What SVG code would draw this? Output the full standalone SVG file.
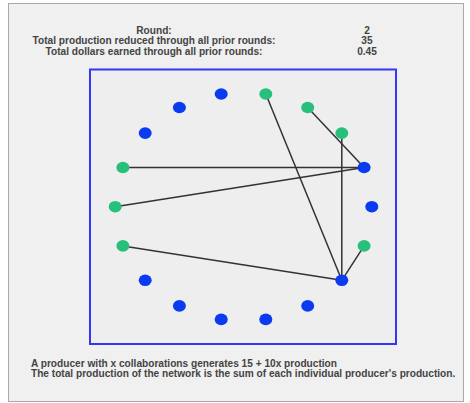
<svg xmlns="http://www.w3.org/2000/svg" width="470" height="403" viewBox="0 0 470 403">
<style>
text{font-family:"Liberation Sans",Arial,sans-serif;font-size:10.15px;font-weight:bold;fill:#444}
.hd{text-anchor:middle}
.b{fill:#0b3bf0}
.g{fill:#26c07c}
.e{stroke:#333;stroke-width:1.5;fill:none}
</style>
<rect x="0" y="0" width="470" height="403" fill="#ffffff"/>
<rect x="8.5" y="3.5" width="455" height="398" fill="#f0f0f0" stroke="#a8a8a8" stroke-width="1"/>
<g id="header">
<text class="hd" x="154" y="33.5">Round:</text>
<text class="hd" x="154" y="44">Total production reduced through all prior rounds:</text>
<text class="hd" x="154" y="54.5">Total dollars earned through all prior rounds:</text>
<text class="hd" x="367" y="33.5">2</text>
<text class="hd" x="367" y="44">35</text>
<text class="hd" x="367" y="54.5">0.45</text>
</g>
<rect id="frame" x="90" y="69.5" width="306" height="274.5" fill="#eeeeee" stroke="#3535f5" stroke-width="2"/>
<g id="connectors">
<line class="e" x1="265.8" y1="94" x2="341.8" y2="280.3"/>
<line class="e" x1="307.7" y1="107.5" x2="364.1" y2="167.5"/>
<line class="e" x1="341.8" y1="133.1" x2="341.8" y2="280.3"/>
<line class="e" x1="122.9" y1="167.5" x2="364.1" y2="167.5"/>
<line class="e" x1="115.2" y1="206.7" x2="364.1" y2="167.5"/>
<line class="e" x1="122.9" y1="245.9" x2="341.8" y2="280.3"/>
<line class="e" x1="364.1" y1="245.9" x2="341.8" y2="280.3"/>
</g>
<g id="n10"><ellipse class="g" cx="265.8" cy="94" rx="6.5" ry="5.8"/></g>
<g id="n30"><ellipse class="g" cx="307.7" cy="107.5" rx="6.5" ry="5.8"/></g>
<g id="n50"><ellipse class="g" cx="341.8" cy="133.1" rx="6.5" ry="5.8"/></g>
<g id="n70"><ellipse class="b" cx="364.1" cy="167.5" rx="6.5" ry="5.8"/></g>
<g id="n90"><ellipse class="b" cx="371.8" cy="206.7" rx="6.5" ry="5.8"/></g>
<g id="n110"><ellipse class="g" cx="364.1" cy="245.9" rx="6.5" ry="5.8"/></g>
<g id="n130"><ellipse class="b" cx="341.8" cy="280.3" rx="6.5" ry="5.8"/></g>
<g id="n150"><ellipse class="b" cx="307.7" cy="305.9" rx="6.5" ry="5.8"/></g>
<g id="n170"><ellipse class="b" cx="265.8" cy="319.4" rx="6.5" ry="5.8"/></g>
<g id="n190"><ellipse class="b" cx="221.2" cy="319.4" rx="6.5" ry="5.8"/></g>
<g id="n210"><ellipse class="b" cx="179.4" cy="305.9" rx="6.5" ry="5.8"/></g>
<g id="n230"><ellipse class="b" cx="145.2" cy="280.3" rx="6.5" ry="5.8"/></g>
<g id="n250"><ellipse class="g" cx="122.9" cy="245.9" rx="6.5" ry="5.8"/></g>
<g id="n270"><ellipse class="g" cx="115.2" cy="206.7" rx="6.5" ry="5.8"/></g>
<g id="n290"><ellipse class="g" cx="122.9" cy="167.5" rx="6.5" ry="5.8"/></g>
<g id="n310"><ellipse class="b" cx="145.2" cy="133.1" rx="6.5" ry="5.8"/></g>
<g id="n330"><ellipse class="b" cx="179.4" cy="107.5" rx="6.5" ry="5.8"/></g>
<g id="n350"><ellipse class="b" cx="221.2" cy="94" rx="6.5" ry="5.8"/></g>
<g id="footer">
<text x="31" y="366.5">A producer with x collaborations generates 15 + 10x production</text>
<text x="31" y="376.5">The total production of the network is the sum of each individual producer's production.</text>
</g>
</svg>
